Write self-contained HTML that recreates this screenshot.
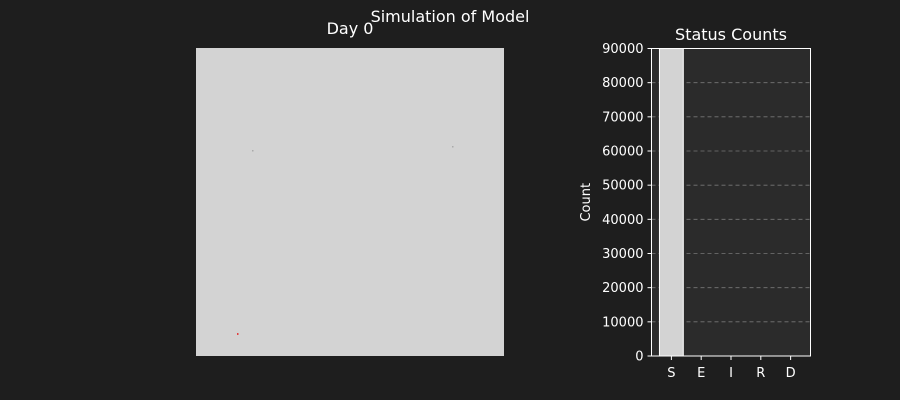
<!DOCTYPE html>
<html><head><meta charset="utf-8"><style>
html,body{margin:0;background:#1e1e1e;overflow:hidden;width:900px;height:400px;}
svg{display:block;}
svg text{font-family:"DejaVu Sans","Liberation Sans",sans-serif;fill:#fff;}
</style></head><body>
<svg width="900" height="400">
<rect width="900" height="400" fill="#1e1e1e"/>
<text x="450" y="22" text-anchor="middle" font-size="16">Simulation of Model</text>
<text x="350" y="34" text-anchor="middle" font-size="16">Day 0</text>
<rect x="196" y="48" width="308" height="308" fill="#d3d3d3"/>
<rect x="252" y="150" width="1.5" height="1.5" fill="#aaa"/>
<rect x="452" y="146" width="1.5" height="1.5" fill="#aaa"/>
<rect x="237" y="333" width="1.5" height="2" fill="#e04040"/>
<text x="731" y="40" text-anchor="middle" font-size="16">Status Counts</text>
<g id="chart"></g>
</svg>
<script>
const categories=["S","E","I","R","D"];
const counts=[89996,2,1,1,0];
const yTicks=[0,10000,20000,30000,40000,50000,60000,70000,80000,90000];
const L=651.5,R=810.5,T=48.5,B=356,ymax=90000;
const x=i=>L+(R-L)*(i+0.667)/(categories.length-1+1.334);
const y=v=>B-(B-T)*v/ymax;
const g=document.getElementById('chart');
const ns="http://www.w3.org/2000/svg";
function mk(t,a){const e=document.createElementNS(ns,t);for(const k in a)e.setAttribute(k,a[k]);g.appendChild(e);return e;}
let bg=mk('rect',{x:L,y:T,width:R-L,height:B-T,fill:'#2b2b2b'});


yTicks.forEach(v=>{
 if(v>0&&v<ymax){let gl=mk('line',{x1:L,x2:R,y1:y(v),y2:y(v),stroke:'#777','stroke-dasharray':'4,3','stroke-width':0.8});
 
 }
 let tk=mk('line',{x1:L-4,x2:L,y1:y(v),y2:y(v),stroke:'#fff'});
 
 
 let t=mk('text',{x:L-8,y:y(v)+4.5,'text-anchor':'end','font-size':13});t.textContent=v;
 
 
});
const bw=(x(1)-x(0))*0.8;
categories.forEach((c,i)=>{
 let b=mk('rect',{x:x(i)-bw/2,y:y(counts[i]),width:bw,height:B-y(counts[i]),fill:'#d3d3d3',stroke:counts[i]>1000?'#fff':'#555','stroke-width':1});
 
 
 let tk=mk('line',{x1:x(i),x2:x(i),y1:B,y2:B+4,stroke:'#fff'});
 
 
 let t=mk('text',{x:x(i),y:B+21,'text-anchor':'middle','font-size':13});t.textContent=c;
 
 
});
let fr=mk('rect',{x:L,y:T,width:R-L,height:B-T,fill:'none',stroke:'#fff','stroke-width':1});


let yl=mk('text',{x:0,y:0,'text-anchor':'middle','font-size':13,transform:`translate(590,${(T+B)/2}) rotate(-90)`});yl.textContent='Count';


</script>
</body></html>
